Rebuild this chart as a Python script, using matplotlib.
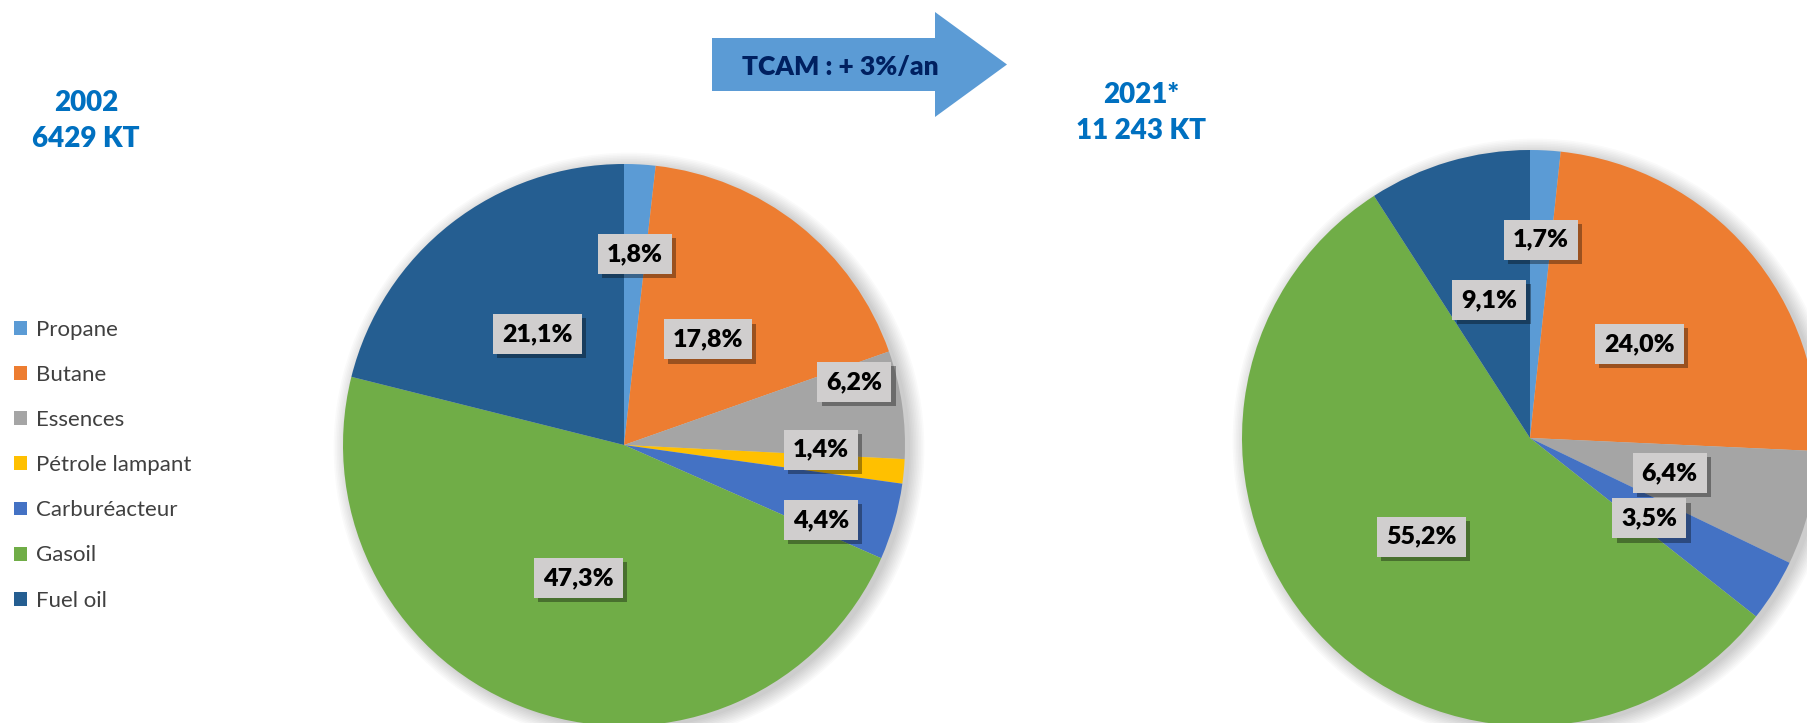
import matplotlib.pyplot as plt
import matplotlib.patheffects as pe
from matplotlib.patches import Patch, Circle, FancyArrow
import numpy as np

plt.rcParams['font.family'] = ['Lato', 'DejaVu Sans']

categories = ['Propane', 'Butane', 'Essences', 'Pétrole lampant', 'Carburéacteur', 'Gasoil', 'Fuel oil']
colors = ['#5B9BD5', '#ED7D31', '#A5A5A5', '#FFC000', '#4472C4', '#70AD47', '#255E91']

share_2002 = [1.8, 17.8, 6.2, 1.4, 4.4, 47.3, 21.1]
share_2021 = [1.7, 24.0, 6.4, 0.0, 3.5, 55.2, 9.1]

title_2002 = '2002\n6429 KT'
title_2021 = '2021*\n11 243 KT'
arrow_text = 'TCAM : + 3%/an'

W, H = 1807, 723
fig = plt.figure(figsize=(W / 100, H / 100), dpi=100)
ax = fig.add_axes([0, 0, 1, 1])


def fmt(v):
    return f'{v:.1f}'.replace('.', ',') + '%'


def draw_pie(values, center, radius, label_pos):
    # soft shadow behind the pie
    for k in range(10):
        ax.add_patch(Circle((center[0] + 5, center[1] - 3), radius + k * 1.6,
                            color='black', alpha=0.018, lw=0, zorder=1))
    ax.pie(values, colors=colors, startangle=90, counterclock=False,
           center=center, radius=radius, frame=True,
           wedgeprops=dict(linewidth=0, zorder=2))
    total = sum(values)
    start = 90.0
    for v, (dist, shift) in zip(values, label_pos):
        sweep = v / total * 360
        mid = np.deg2rad(start - sweep / 2 + shift)
        start -= sweep
        if v == 0:
            continue
        x = center[0] + dist * radius * np.cos(mid)
        y = center[1] + dist * radius * np.sin(mid)
        t = ax.text(x, y, fmt(v), ha='center', va='center', fontsize=18,
                    fontweight='heavy', color='black', zorder=5,
                    bbox=dict(boxstyle='square,pad=0.36', fc='#D0CECE', ec='none'))
        t.get_bbox_patch().set_path_effects([
            pe.withSimplePatchShadow(offset=(3, -3), shadow_rgbFace='black', alpha=0.35),
            pe.Normal()])


# (distance as fraction of radius, angle shift in degrees) per slice
pos_2002 = [(0.68, 0), (0.48, 0), (0.85, 7), (0.70, 4), (0.75, -5), (0.50, 0), (0.50, 0)]
pos_2021 = [(0.69, 0), (0.50, 0), (0.50, 0), (0.5, 0), (0.50, -2), (0.51, 0), (0.50, 0)]

draw_pie(share_2002, (624, H - 445), 281, pos_2002)
draw_pie(share_2021, (1530, H - 438), 288, pos_2021)
ax.set_xlim(0, W)
ax.set_ylim(0, H)
ax.set_aspect('equal')
ax.axis('off')

# titles
ax.text(86, H - 121, title_2002, ha='center', va='center', fontsize=20,
        fontweight='heavy', color='#0070C0', linespacing=1.45)
ax.text(1141, H - 113, title_2021, ha='center', va='center', fontsize=20,
        fontweight='heavy', color='#0070C0', linespacing=1.45)

# growth arrow
ax.add_patch(FancyArrow(712, H - 64.5, 295, 0, width=53, head_width=105,
                        head_length=72, length_includes_head=True,
                        color='#5B9BD5', lw=0, zorder=3))
ax.text(840, H - 67, arrow_text, ha='center', va='center', fontsize=19,
        fontweight='heavy', color='#002060', zorder=4)

# legend
handles = [Patch(facecolor=c, edgecolor='none') for c in colors]
leg = ax.legend(handles, categories, loc='upper left', bbox_to_anchor=(0.003, 1 - 311 / H),
                frameon=False, fontsize=16, handlelength=0.58, handleheight=0.58,
                handletextpad=0.38, labelspacing=1.13, borderaxespad=0)
for txt in leg.get_texts():
    txt.set_color('#404040')

fig.savefig('out.png', dpi=100)
